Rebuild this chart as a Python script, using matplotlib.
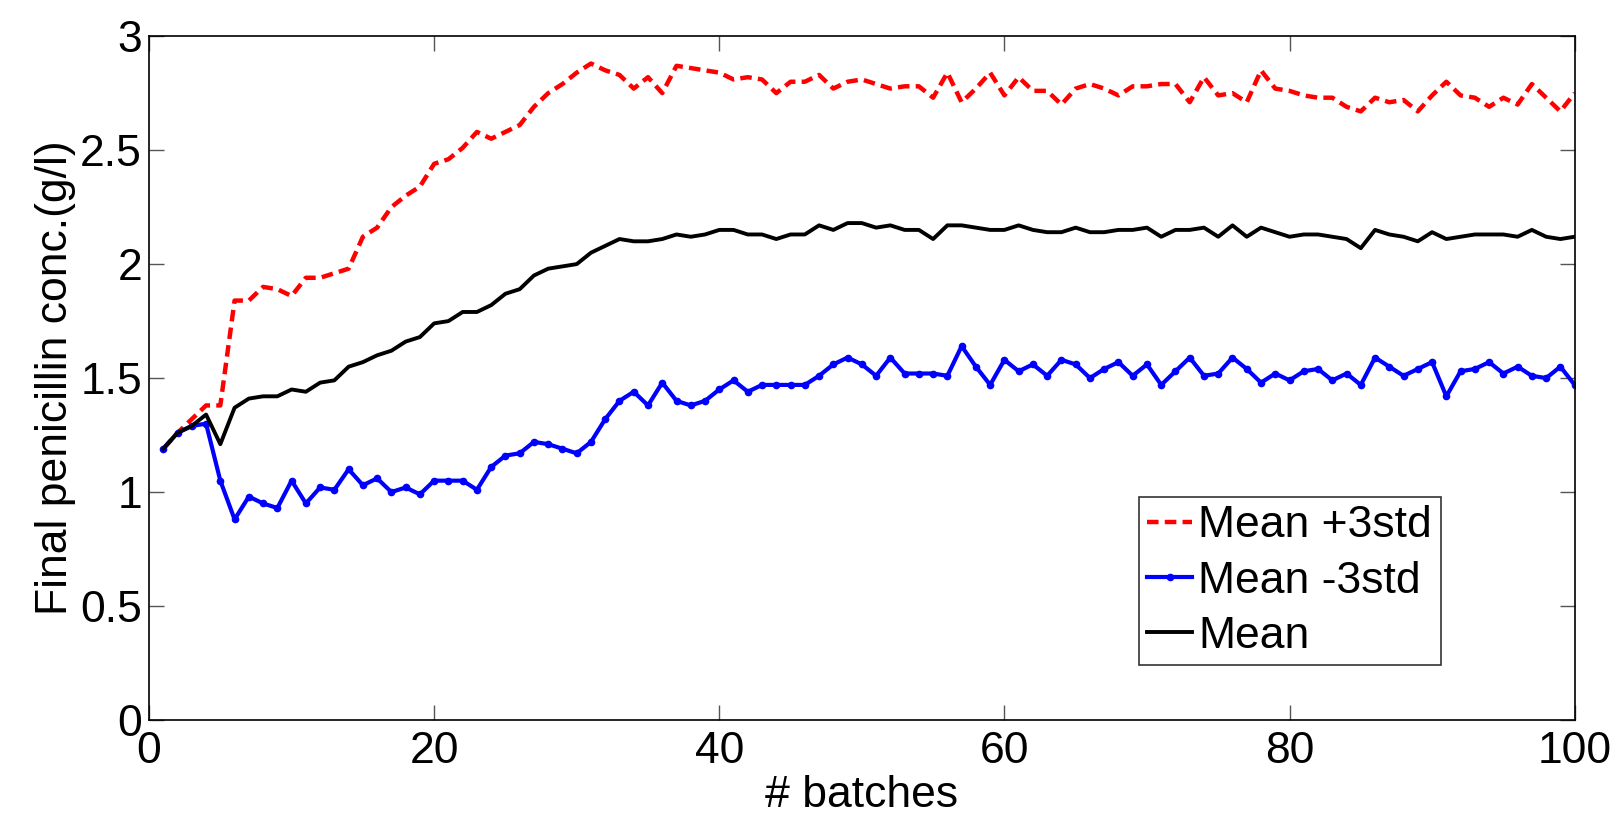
import matplotlib
matplotlib.use("Agg")
import matplotlib.pyplot as plt
from matplotlib.ticker import FormatStrFormatter
import numpy as np

plt.rcParams['font.family'] = ['Liberation Sans', 'DejaVu Sans']

batches = np.arange(1, 101)

mean_plus_3std = [
    1.19, 1.26, 1.32, 1.38, 1.38, 1.84, 1.84, 1.90, 1.89, 1.86,
    1.94, 1.94, 1.96, 1.98, 2.12, 2.16, 2.25, 2.30, 2.34, 2.44,
    2.46, 2.51, 2.58, 2.55, 2.58, 2.61, 2.69, 2.75, 2.79, 2.84,
    2.88, 2.85, 2.83, 2.77, 2.82, 2.75, 2.87, 2.86, 2.85, 2.84,
    2.81, 2.82, 2.81, 2.75, 2.80, 2.80, 2.83, 2.77, 2.80, 2.81,
    2.79, 2.77, 2.78, 2.78, 2.73, 2.84, 2.71, 2.77, 2.84, 2.74,
    2.82, 2.76, 2.76, 2.70, 2.77, 2.79, 2.77, 2.74, 2.78, 2.78,
    2.79, 2.79, 2.71, 2.82, 2.74, 2.75, 2.71, 2.85, 2.77, 2.76,
    2.74, 2.73, 2.73, 2.69, 2.67, 2.73, 2.71, 2.72, 2.67, 2.74,
    2.80, 2.74, 2.73, 2.69, 2.73, 2.70, 2.79, 2.73, 2.67, 2.75,
]

mean_minus_3std = [
    1.19, 1.26, 1.29, 1.30, 1.05, 0.88, 0.98, 0.95, 0.93, 1.05,
    0.95, 1.02, 1.01, 1.10, 1.03, 1.06, 1.00, 1.02, 0.99, 1.05,
    1.05, 1.05, 1.01, 1.11, 1.16, 1.17, 1.22, 1.21, 1.19, 1.17,
    1.22, 1.32, 1.40, 1.44, 1.38, 1.48, 1.40, 1.38, 1.40, 1.45,
    1.49, 1.44, 1.47, 1.47, 1.47, 1.47, 1.51, 1.56, 1.59, 1.56,
    1.51, 1.59, 1.52, 1.52, 1.52, 1.51, 1.64, 1.55, 1.47, 1.58,
    1.53, 1.56, 1.51, 1.58, 1.56, 1.50, 1.54, 1.57, 1.51, 1.56,
    1.47, 1.53, 1.59, 1.51, 1.52, 1.59, 1.54, 1.48, 1.52, 1.49,
    1.53, 1.54, 1.49, 1.52, 1.47, 1.59, 1.55, 1.51, 1.54, 1.57,
    1.42, 1.53, 1.54, 1.57, 1.52, 1.55, 1.51, 1.50, 1.55, 1.47,
]

mean = [
    1.19, 1.26, 1.29, 1.34, 1.21, 1.37, 1.41, 1.42, 1.42, 1.45,
    1.44, 1.48, 1.49, 1.55, 1.57, 1.60, 1.62, 1.66, 1.68, 1.74,
    1.75, 1.79, 1.79, 1.82, 1.87, 1.89, 1.95, 1.98, 1.99, 2.00,
    2.05, 2.08, 2.11, 2.10, 2.10, 2.11, 2.13, 2.12, 2.13, 2.15,
    2.15, 2.13, 2.13, 2.11, 2.13, 2.13, 2.17, 2.15, 2.18, 2.18,
    2.16, 2.17, 2.15, 2.15, 2.11, 2.17, 2.17, 2.16, 2.15, 2.15,
    2.17, 2.15, 2.14, 2.14, 2.16, 2.14, 2.14, 2.15, 2.15, 2.16,
    2.12, 2.15, 2.15, 2.16, 2.12, 2.17, 2.12, 2.16, 2.14, 2.12,
    2.13, 2.13, 2.12, 2.11, 2.07, 2.15, 2.13, 2.12, 2.10, 2.14,
    2.11, 2.12, 2.13, 2.13, 2.13, 2.12, 2.15, 2.12, 2.11, 2.12,
]

fig = plt.figure(figsize=(16.2, 8.18), dpi=100)
ax = fig.add_axes([0.092, 0.1198, 0.880, 0.836])

ax.plot(batches, mean_plus_3std, 'r--', lw=3.2, dashes=(2.6, 1.4), label='Mean +3std')
ax.plot(batches, mean_minus_3std, '.-', color='blue', lw=3.0, ms=9, label='Mean -3std')
ax.plot(batches, mean, 'k-', lw=2.8, label='Mean')

ax.set_xlim(0, 100)
ax.set_ylim(0, 3)
ax.set_xticks([0, 20, 40, 60, 80, 100])
ax.set_yticks([0, 0.5, 1, 1.5, 2, 2.5, 3])
ax.yaxis.set_major_formatter(FormatStrFormatter('%g'))
ax.tick_params(direction='in', length=11, width=1, color='#555555',
               top=True, right=True, labelsize=32)
ax.tick_params(axis='x', pad=8)
ax.tick_params(axis='y', pad=5)
for s in ax.spines.values():
    s.set_linewidth(1.2)

ax.set_xlabel('# batches', fontsize=32, labelpad=2)
ax.set_ylabel('Final penicillin conc.(g/l)', fontsize=32, labelpad=3)

leg = ax.legend(loc='lower right', bbox_to_anchor=(0.906, 0.080), fontsize=32,
                handlelength=1.0, handletextpad=0.15, borderpad=0.19,
                labelspacing=0.32, borderaxespad=0, fancybox=False,
                framealpha=1)
leg.get_frame().set_edgecolor('#333333')
leg.get_frame().set_linewidth(1.2)

fig.savefig('out.png', dpi=100)
